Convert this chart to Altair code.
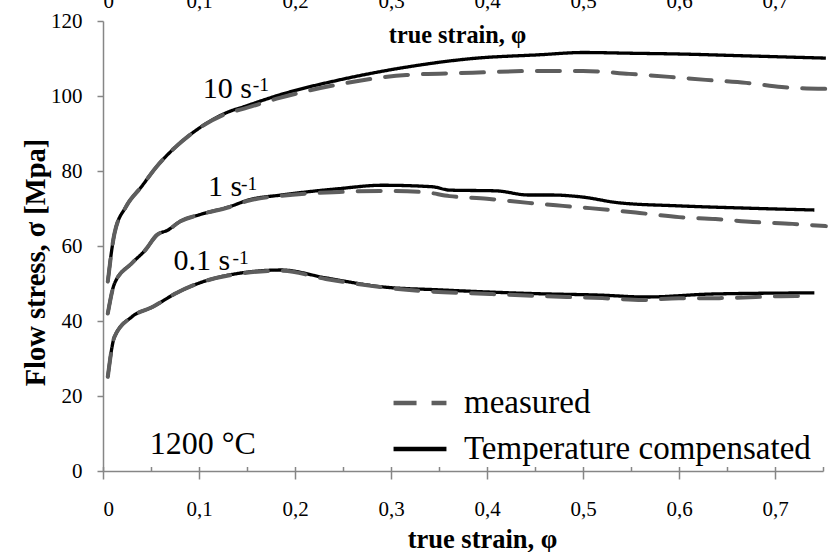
import altair as alt
import pandas as pd

FONT = "Liberation Serif"
MEAS = "measured"
COMP = "Temperature compensated"

# ---- flow curves at 1200 °C: true strain vs flow stress [MPa] ----
# strain rate 10 s^-1
strain_10_comp = [0.005, 0.012, 0.024, 0.040, 0.056, 0.076, 0.100, 0.132, 0.145, 0.184, 0.250,
                  0.316, 0.385, 0.455, 0.500, 0.550, 0.600, 0.670, 0.753]
stress_10_comp = [50.5, 63.4, 70.5, 75.8, 81.2, 86.5, 91.4, 95.9, 97.0, 100.3, 104.5,
                  107.7, 110.0, 111.0, 111.6, 111.4, 111.2, 110.7, 110.1]
strain_10_meas = [0.005, 0.012, 0.024, 0.040, 0.056, 0.076, 0.100, 0.132, 0.145, 0.184, 0.250,
                  0.316, 0.385, 0.455, 0.500, 0.548, 0.590, 0.628, 0.670, 0.707, 0.753]
stress_10_meas = [50.5, 63.4, 70.5, 75.8, 81.2, 86.5, 91.4, 95.6, 96.5, 99.5, 103.3,
                  105.6, 106.2, 106.7, 106.7, 105.9, 105.1, 104.3, 103.5, 102.4, 101.9]

# strain rate 1 s^-1
strain_1_comp = [0.005, 0.012, 0.030, 0.044, 0.056, 0.068, 0.080, 0.100, 0.132, 0.152, 0.186,
                 0.246, 0.291, 0.343, 0.361, 0.410, 0.443, 0.467, 0.498, 0.538, 0.600, 0.670,
                 0.741]
stress_1_comp = [42.0, 50.0, 55.4, 58.9, 62.9, 64.3, 66.5, 68.3, 70.5, 72.3, 73.6,
                 75.3, 76.2, 75.8, 74.9, 74.7, 73.6, 73.6, 73.1, 71.5, 70.7, 70.1,
                 69.6]
strain_1_meas = [0.005, 0.012, 0.030, 0.044, 0.056, 0.068, 0.080, 0.100, 0.132, 0.152, 0.186,
                 0.246, 0.291, 0.333, 0.361, 0.400, 0.443, 0.479, 0.507, 0.559, 0.600, 0.638,
                 0.677, 0.718, 0.753]
stress_1_meas = [42.0, 50.0, 55.4, 58.9, 62.9, 64.3, 66.5, 68.3, 70.4, 72.1, 73.4,
                 74.4, 74.7, 74.4, 73.3, 72.6, 71.5, 70.7, 70.1, 68.8, 67.7, 67.2,
                 66.4, 65.9, 65.3]

# strain rate 0.1 s^-1
strain_01_comp = [0.005, 0.012, 0.030, 0.052, 0.076, 0.100, 0.132, 0.186, 0.232, 0.291,
                  0.351, 0.450, 0.518, 0.566, 0.635, 0.741]
stress_01_comp = [25.1, 35.8, 41.1, 43.8, 47.4, 50.1, 52.3, 53.6, 51.5, 49.1,
                  48.3, 47.3, 46.9, 46.4, 47.2, 47.5]
strain_01_meas = [0.005, 0.012, 0.030, 0.052, 0.076, 0.100, 0.132, 0.186, 0.232, 0.281,
                  0.333, 0.403, 0.483, 0.520, 0.562, 0.600, 0.642, 0.680, 0.722, 0.739]
stress_01_meas = [25.1, 35.8, 41.1, 43.8, 47.4, 50.1, 52.2, 53.4, 51.2, 49.3,
                  48.0, 47.2, 46.4, 46.1, 45.6, 46.1, 46.1, 46.4, 46.7, 46.7]

# strain-rate annotations (anchor of the base text) and superscript offsets
rate_text = ["10 s", "1 s", "0.1 s"]
rate_x = [0.1038, 0.1094, 0.0735]
rate_y = [99.5, 73.3, 53.6]
sup_dx = [50, 33, 59]

temp_text = ["1200 °C"]
temp_x = [0.0486]
temp_y = [4.6]

x_major = [0, 0.1, 0.2, 0.3, 0.4, 0.5, 0.6, 0.7]
x_minor = [0, 0.05, 0.1, 0.15, 0.2, 0.25, 0.3, 0.35, 0.4, 0.45, 0.5, 0.55, 0.6, 0.65, 0.7, 0.75]
y_ticks = [0, 20, 40, 60, 80, 100, 120]


def curve(strain, stress, series, rate):
    return pd.DataFrame({"strain": strain, "stress": stress, "series": series, "rate": rate})


comp_df = pd.concat([
    curve(strain_10_comp, stress_10_comp, COMP, "10"),
    curve(strain_1_comp, stress_1_comp, COMP, "1"),
    curve(strain_01_comp, stress_01_comp, COMP, "0.1"),
])
meas_df = pd.concat([
    curve(strain_10_meas, stress_10_meas, MEAS, "10"),
    curve(strain_1_meas, stress_1_meas, MEAS, "1"),
    curve(strain_01_meas, stress_01_meas, MEAS, "0.1"),
])
rate_df = pd.DataFrame({"label": rate_text, "x": rate_x, "y": rate_y})
temp_df = pd.DataFrame({"label": temp_text, "x": temp_x, "y": temp_y})

AXIS_GRAY = "#868686"
comma_labels = "replace(format(datum.value, '.1~f'), '.', ',')"

xscale = alt.Scale(domain=[0, 0.75], nice=False, zero=True)
yscale = alt.Scale(domain=[0, 120], nice=False)

y_axis = alt.Axis(
    values=y_ticks, grid=False, domainColor=AXIS_GRAY, domainWidth=1.5,
    tickColor=AXIS_GRAY, tickWidth=1.5, tickSize=6, labelPadding=15,
    labelFont=FONT, labelFontSize=21, labelColor="black",
    title="Flow stress, σ [Mpa]", titleFont=FONT, titleFontSize=28.5,
    titleFontWeight="bold", titleColor="black", titleAngle=270,
    titleX=-59, titleY=241, titleAlign="center", titleBaseline="alphabetic",
)

x_axis_main = alt.Axis(
    orient="bottom", values=x_major, grid=False, domainColor=AXIS_GRAY, domainWidth=1.5,
    tickColor=AXIS_GRAY, tickWidth=1.5, tickSize=8, labelExpr=comma_labels,
    labelFont=FONT, labelFontSize=21, labelColor="black",
    labelBaseline="alphabetic", labelPadding=36,
    title="true strain, φ", titleFont=FONT, titleFontSize=26.5, titleFontWeight="bold",
    titleColor="black", titleX=379, titleY=76, titleAlign="center",
    titleBaseline="alphabetic",
)

# short inward ticks along the strain axis
x_axis_minor = alt.Axis(
    orient="bottom", values=x_minor, grid=False, domain=False, labels=False,
    tickColor=AXIS_GRAY, tickWidth=1.5, tickSize=4.5, offset=-4.5, title=None,
)

x_axis_top = alt.Axis(
    orient="top", values=x_major, grid=False, domain=False, ticks=False,
    labelExpr=comma_labels, labelFont=FONT, labelFontSize=21, labelColor="black",
    labelBaseline="alphabetic", labelPadding=14,
    title="true strain, φ", titleFont=FONT, titleFontSize=24.3, titleFontWeight="bold",
    titleColor="black", titleX=354, titleY=21, titleAlign="center",
    titleBaseline="alphabetic",
)

color_scale = alt.Scale(domain=[MEAS, COMP], range=["#5e5e5e", "black"])
dash_scale = alt.Scale(domain=[MEAS, COMP], range=[[23, 15], [1, 0]])

legend = alt.Legend(
    orient="none", legendX=288, legendY=353, title=None, padding=0,
    labelFont=FONT, labelFontSize=33, labelColor="black", labelOffset=15,
    labelLimit=600, symbolType="stroke", symbolSize=2800, rowPadding=-4,
    symbolStrokeWidth=4.5,
)

comp_lines = alt.Chart(comp_df).mark_line(
    interpolate="monotone", strokeWidth=3.3
).encode(
    x=alt.X("strain:Q", scale=xscale, axis=x_axis_main),
    y=alt.Y("stress:Q", scale=yscale, axis=y_axis),
    color=alt.Color("series:N", scale=color_scale, legend=legend),
    strokeDash=alt.StrokeDash("series:N", scale=dash_scale, legend=legend),
    detail="rate:N",
)

meas_lines = alt.Chart(meas_df).mark_line(
    interpolate="monotone", strokeWidth=4, strokeCap="round"
).encode(
    x=alt.X("strain:Q", scale=xscale, axis=None),
    y=alt.Y("stress:Q", scale=yscale, axis=y_axis),
    color=alt.Color("series:N", scale=color_scale, legend=legend),
    strokeDash=alt.StrokeDash("series:N", scale=dash_scale, legend=legend),
    detail="rate:N",
)

rate_labels = alt.Chart(rate_df).mark_text(
    align="left", baseline="alphabetic", font=FONT, fontSize=30, color="black"
).encode(
    x=alt.X("x:Q", scale=xscale, axis=x_axis_minor),
    y=alt.Y("y:Q", scale=yscale, axis=y_axis),
    text="label:N",
)

superscripts = [
    alt.Chart(rate_df.iloc[[i]]).mark_text(
        align="left", baseline="alphabetic", font=FONT, fontSize=19.5,
        color="black", dx=sup_dx[i], dy=-6.5,
    ).encode(
        x=alt.X("x:Q", scale=xscale, axis=None),
        y=alt.Y("y:Q", scale=yscale, axis=y_axis),
        text=alt.value("-1"),
    )
    for i in range(len(rate_text))
]

temp_label = alt.Chart(temp_df).mark_text(
    align="left", baseline="alphabetic", font=FONT, fontSize=32, color="black"
).encode(
    x=alt.X("x:Q", scale=xscale, axis=x_axis_top),
    y=alt.Y("y:Q", scale=yscale, axis=y_axis),
    text="label:N",
)

chart = alt.layer(
    comp_lines, meas_lines, rate_labels, *superscripts, temp_label
).resolve_axis(
    x="independent"
).properties(
    width=720, height=450,
    autosize=alt.AutoSizeParams(type="none"),
    padding={"left": 103, "top": 21, "right": 7, "bottom": 81},
    background="white",
).configure_view(
    stroke=None
)

chart.save("out.html", embed_options={"renderer": "svg", "actions": False})
